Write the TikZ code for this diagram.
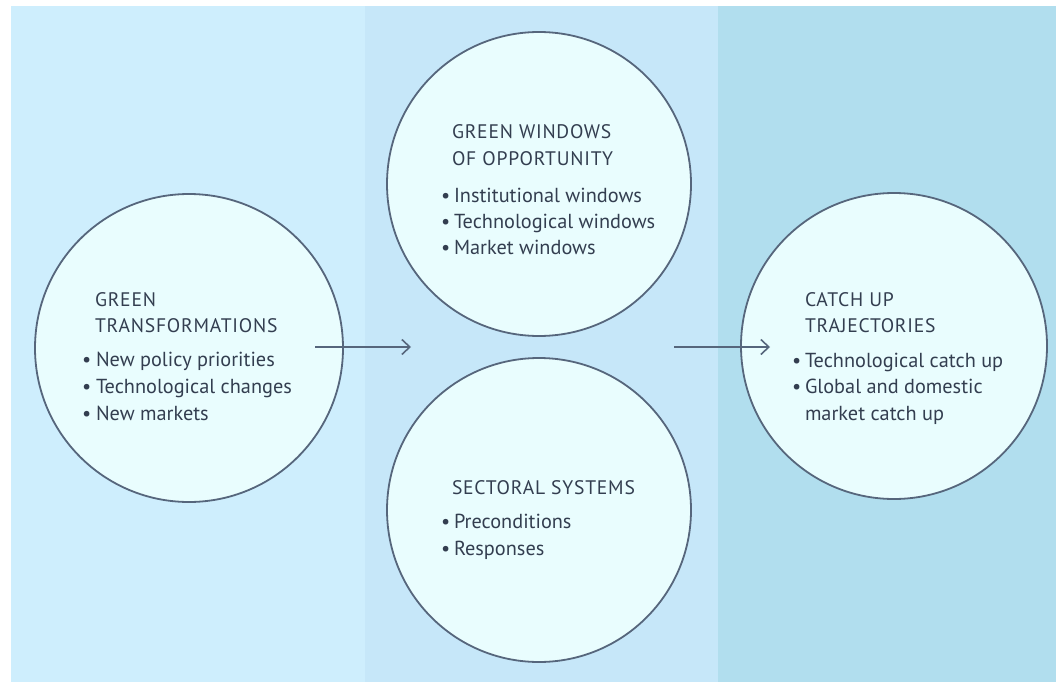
\documentclass[tikz,border=0pt]{standalone}
\usepackage{fontspec}
\setmainfont{PT Sans}
\newfontfamily\hdfont[LetterSpace=4]{PT Sans}
\usetikzlibrary{arrows.meta}
\definecolor{panA}{HTML}{CEEEFD}
\definecolor{panB}{HTML}{C6E7F9}
\definecolor{panC}{HTML}{B1DEEE}
\definecolor{circfill}{HTML}{E9FDFE}
\definecolor{edge}{HTML}{56667C}
\definecolor{ink}{HTML}{333E50}
\tikzset{
  circ/.style={circle, draw=edge, line width=1.8pt, fill=circfill, inner sep=0pt},
  txt/.style={anchor=base west, inner sep=0pt, outer sep=0pt, text=ink, font=\fontsize{20.3}{24}\selectfont},
  hd/.style={txt, font=\fontsize{19.6}{24}\hdfont},
  flow/.style={draw=edge, line width=1.6pt, -{Straight Barb[length=8pt,width=15pt,line width=1.6pt]}}
}
\begin{document}
\begin{tikzpicture}[x=1pt,y=-1pt]
\useasboundingbox (0,0) rectangle (1056,682);
\fill[white] (0,0) rectangle (1056,682);
\fill[panA] (11,6) rectangle (365,682);
\fill[panB] (365,6) rectangle (718,682);
\fill[panC] (718,6) rectangle (1056,682);

\node[circ, minimum size=308pt] (gt) at (189,348) {};
\node[circ, minimum size=304pt] (gw) at (539,184) {};
\node[circ, minimum size=304pt] (ss) at (539,510) {};
\node[circ, minimum size=306pt] (cu) at (894,346) {};

% green transformations
\node[hd] (gt1) at (95,306) {GREEN};
\node[hd] (gt2) at (95,332) {TRANSFORMATIONS};
\node[txt] (gtb1) at (82,366) {•};
\node[txt] (gt3) at (96,366) {New policy priorities};
\node[txt] (gtb2) at (82,393) {•};
\node[txt] (gt4) at (96,393) {Technological changes};
\node[txt] (gtb3) at (82,420) {•};
\node[txt] (gt5) at (96,420) {New markets};

% green windows
\node[hd] (gw1) at (452,139) {GREEN WINDOWS};
\node[hd] (gw2) at (452,165) {OF OPPORTUNITY};
\node[txt] (gwb1) at (441,202) {•};
\node[txt] (gw3) at (454,202) {Institutional windows};
\node[txt] (gwb2) at (441,228) {•};
\node[txt] (gw4) at (454,228) {Technological windows};
\node[txt] (gwb3) at (441,254) {•};
\node[txt] (gw5) at (454,254) {Market windows};

% sectoral systems
\node[hd] (ss1) at (452,494) {SECTORAL SYSTEMS};
\node[txt] (ssb1) at (441,528) {•};
\node[txt] (ss2) at (454,528) {Preconditions};
\node[txt] (ssb2) at (441,555) {•};
\node[txt] (ss3) at (454,555) {Responses};

% catch up
\node[hd] (cu1) at (805,306) {CATCH UP};
\node[hd] (cu2) at (805,332) {TRAJECTORIES};
\node[txt] (cub1) at (792,367) {•};
\node[txt] (cu3) at (805,367) {Technological catch up};
\node[txt] (cub2) at (792,393) {•};
\node[txt] (cu4) at (805,393) {Global and domestic};
\node[txt] (cu5) at (805,420) {market catch up};

\coordinate (a1s) at (315,347);
\coordinate (a1e) at (411,347);
\coordinate (a2s) at (674,347);
\coordinate (a2e) at (770,347);
\draw[flow] (a1s) -- (a1e);
\draw[flow] (a2s) -- (a2e);
\end{tikzpicture}
\end{document}
